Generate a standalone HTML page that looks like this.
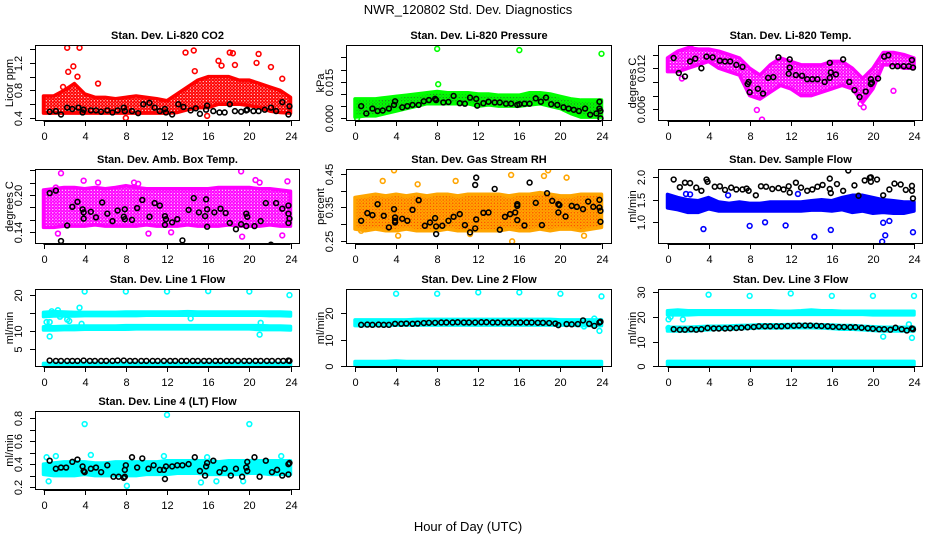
<!DOCTYPE html>
<html><head><meta charset="utf-8"><style>
html,body{margin:0;padding:0;background:#fff}
svg{display:block;font-family:"Liberation Sans",Arial,sans-serif}
</style></head><body>
<svg id="chart" width="936" height="540" viewBox="0 0 936 540" xmlns="http://www.w3.org/2000/svg">
<defs id="defs"></defs>
<text x="468" y="14" font-size="13" text-anchor="middle">NWR_120802  Std. Dev. Diagnostics</text>
<text x="468" y="531" font-size="13" text-anchor="middle">Hour of Day (UTC)</text>
</svg>
<script>
// ---- data (hour 0..24 bands, outliers, black points) ----
const xTicks = [0,4,8,12,16,20,24];
const hours = [0,1,2,3,4,5,6,7,8,9,10,11,12,13,14,15,16,17,18,19,20,21,22,23,24];

const co2Lo = [0.47,0.47,0.47,0.47,0.47,0.47,0.47,0.47,0.47,0.47,0.47,0.47,0.47,0.48,0.52,0.55,0.55,0.6,0.6,0.6,0.58,0.55,0.5,0.48,0.47];
const co2Hi = [0.72,0.72,0.8,0.9,0.75,0.7,0.7,0.68,0.7,0.72,0.7,0.68,0.65,0.75,0.85,0.95,1.0,1.0,1.0,0.95,0.95,0.9,0.85,0.8,0.7];
const co2Out = [[2.3,1.42],[3.5,1.42],[2.9,1.15],[2.4,1.07],[3.3,1.0],[1.9,0.85],[5.3,0.9],[8.0,0.4],[13.8,1.35],[14.6,1.38],[17,1.23],[18.1,1.35],[18.4,1.34],[20.9,1.33],[20.7,1.2],[17.3,1.16],[18.6,1.17],[23.2,0.97],[22.1,1.14],[15.9,0.43],[14.7,1.08]];
const co2Blk = [[0.6,.49],[1.2,.5],[1.7,.45],[2.3,.55],[2.8,.53],[3.4,.55],[3.8,.48],[3.9,.52],[4.6,.51],[5.1,.51],[5.6,.49],[6.2,.51],[6.7,.48],[7.2,.51],[7.8,.55],[7.9,.5],[8.6,.5],[9.2,.47],[9.7,.6],[10.3,.62],[10.8,.55],[11.3,.5],[11.8,.53],[11.9,.48],[12.5,.45],[13.1,.6],[13.6,.56],[14.3,.51],[14.8,.54],[15.2,.46],[15.8,.52],[15.9,.58],[16.5,.5],[17.1,.48],[17.6,.48],[18.1,.6],[18.6,.5],[19.2,.49],[19.7,.51],[19.8,.52],[20.4,.5],[20.9,.5],[21.5,.52],[22.1,.55],[22.6,.5],[23.2,.63],[23.8,.45],[23.9,.57]];

const presLo = [0.0005,0.001,0.001,0.002,0.003,0.004,0.005,0.006,0.006,0.006,0.006,0.006,0.005,0.0055,0.005,0.005,0.005,0.0055,0.006,0.005,0.004,0.002,0.0005,0.0005,0.0005];
const presHi = [0.008,0.008,0.008,0.0085,0.009,0.0095,0.01,0.0105,0.011,0.0105,0.0105,0.0105,0.01,0.01,0.0095,0.0095,0.0095,0.0105,0.0105,0.01,0.009,0.008,0.0075,0.0075,0.0075];
const presOut = [[8,0.0285],[16,0.028],[24,0.0265],[8.1,0.014],[0.2,0.0]];
const presBlk = [[0.6,.005],[1.1,.002],[1.7,.004],[2.2,.003],[2.7,.0032],[3.3,.004],[3.9,.007],[3.8,.0055],[4.6,.0045],[5.1,.005],[5.6,.0055],[6.2,.0055],[6.7,.007],[7.2,.0075],[7.8,.008],[7.9,.0075],[8.6,.0065],[9.1,.0067],[9.6,.0092],[10.2,.0062],[10.7,.006],[11.2,.0085],[11.8,.008],[11.9,.0052],[12.5,.0062],[13.0,.0068],[13.6,.0065],[14.1,.0065],[14.7,.006],[15.2,.006],[15.8,.0055],[16.0,.0058],[16.5,.006],[17.0,.006],[17.6,.0082],[18.1,.0068],[18.6,.0085],[19.1,.0058],[19.7,.0055],[20.3,.0045],[20.8,.004],[21.3,.0035],[21.8,.003],[22.4,.004],[22.9,.0015],[23.5,.002],[23.8,.0068],[23.8,.004],[23.9,.003],[23.9,0.0]];

const tempLo = [0.0115,0.0115,0.012,0.0125,0.013,0.012,0.0115,0.011,0.008,0.0075,0.0085,0.0095,0.009,0.008,0.008,0.0085,0.009,0.0095,0.009,0.007,0.009,0.0125,0.0125,0.012,0.012];
const tempHi = [0.0135,0.0145,0.015,0.0148,0.0148,0.0145,0.014,0.0135,0.012,0.011,0.0125,0.0135,0.013,0.0125,0.0125,0.0125,0.013,0.013,0.012,0.0105,0.012,0.0143,0.0143,0.014,0.0135];
const tempOut = [[9.2,0.0045],[8.7,0.0059],[19.1,0.0063],[22,0.0087],[1.4,0.0105],[18.8,0.0068],[2.3,0.0155]];
const tempBlk = [[0.6,.0135],[1.1,.0113],[1.7,.0108],[2.2,.013],[2.7,.0134],[3.3,.012],[3.8,.0137],[4.4,.0136],[5.1,.0131],[5.6,.013],[6.1,.013],[6.7,.0125],[7.3,.0122],[7.9,.01],[7.8,.0097],[8.0,.0085],[8.8,.009],[9.3,.0083],[9.8,.0106],[10.3,.0107],[10.8,.0136],[11.8,.0112],[11.9,.0133],[11.9,.0121],[12.5,.011],[13.1,.0109],[13.6,.0104],[14.1,.0104],[14.6,.0104],[15.3,.01],[15.8,.0106],[15.8,.0128],[15.9,.0114],[16.4,.0111],[17.1,.0133],[17.7,.01],[18.2,.0088],[18.7,.0078],[19.3,.0086],[19.8,.0104],[19.8,.0097],[19.9,.0099],[20.5,.0105],[21.1,.0137],[21.5,.0139],[21.9,.0123],[22.4,.0123],[23,.0123],[23.5,.0123],[23.8,.0132],[23.9,.0121]];

const ambLo = [0.148,0.148,0.15,0.15,0.15,0.152,0.15,0.15,0.15,0.15,0.152,0.15,0.15,0.15,0.152,0.15,0.15,0.15,0.152,0.15,0.15,0.15,0.152,0.15,0.15];
const ambHi = [0.208,0.21,0.212,0.212,0.21,0.212,0.21,0.212,0.215,0.212,0.21,0.21,0.21,0.21,0.21,0.21,0.21,0.212,0.212,0.212,0.212,0.21,0.21,0.208,0.206];
const ambOut = [[1.7,.235],[9.2,.218],[8.8,.22],[19.2,.238],[23.7,.222],[3.9,.223],[1.2,.212],[1.4,.138],[19.3,.133],[23.2,.135],[5.3,.22],[12.4,.14],[10.2,.138],[21.0,.22],[20.6,.224]];
const ambBlk = [[0.6,.203],[1.2,.207],[1.7,.126],[2.3,.151],[2.8,.181],[3.3,.189],[3.9,.172],[3.8,.177],[3.9,.162],[4.6,.173],[5.1,.164],[5.7,.188],[6.2,.17],[6.7,.158],[7.2,.175],[7.8,.165],[7.9,.161],[7.9,.177],[8.6,.16],[9.1,.179],[9.6,.192],[10.3,.165],[10.8,.187],[11.3,.183],[11.8,.166],[11.8,.152],[11.9,.161],[12.5,.156],[13.0,.161],[13.5,.127],[14.1,.176],[14.6,.195],[15.1,.172],[15.7,.166],[15.8,.193],[15.9,.177],[15.9,.149],[16.6,.172],[17.2,.178],[17.7,.171],[18.1,.155],[18.7,.145],[19.2,.153],[19.7,.17],[19.7,.15],[19.8,.165],[20.5,.15],[21.1,.158],[21.6,.187],[22.1,.12],[22.6,.187],[23.2,.178],[23.8,.183],[23.8,.17],[23.8,.155],[23.9,.162]];

const rhLo = [0.285,0.28,0.285,0.28,0.28,0.285,0.28,0.28,0.28,0.285,0.28,0.28,0.28,0.28,0.28,0.285,0.28,0.28,0.285,0.28,0.285,0.285,0.28,0.285,0.29];
const rhHi = [0.38,0.385,0.39,0.385,0.39,0.385,0.39,0.385,0.39,0.39,0.385,0.39,0.39,0.39,0.39,0.385,0.39,0.39,0.395,0.39,0.385,0.385,0.39,0.39,0.39];
const rhOut = [[3.8,0.462],[15.2,0.448],[18.8,0.462],[15.3,0.248],[11.2,0.27],[0.6,0.28],[2.7,0.43],[6.1,0.42],[9.8,0.43],[18.4,0.445],[20.6,0.44],[22.3,0.265],[4.2,0.265]];
const rhBlk = [[0.6,.31],[1.2,.333],[1.7,.327],[2.2,.36],[2.8,.325],[3.3,.29],[3.8,.345],[3.9,.32],[3.9,.31],[3.9,.305],[4.6,.316],[5.1,.31],[5.6,.343],[6.2,.372],[6.8,.295],[7.3,.305],[7.8,.318],[7.9,.293],[7.9,.27],[8.5,.295],[9.1,.31],[9.6,.322],[10.2,.33],[10.7,.297],[11.2,.275],[11.7,.287],[11.7,.418],[11.8,.44],[11.8,.314],[12.5,.334],[13.0,.335],[13.6,.406],[14.1,.283],[14.6,.322],[15.1,.33],[15.6,.335],[15.8,.36],[15.8,.355],[15.8,.312],[16.5,.296],[17.0,.425],[17.6,.364],[18.2,.297],[18.7,.393],[19.2,.37],[19.8,.36],[19.8,.335],[19.9,.357],[20.5,.323],[21.1,.355],[21.6,.352],[22.2,.345],[22.7,.368],[23.2,.352],[23.8,.373],[23.8,.35],[23.9,.34],[23.9,.307]];

const flowLo = [1.32,1.28,1.22,1.22,1.3,1.25,1.25,1.25,1.25,1.25,1.25,1.25,1.25,1.25,1.27,1.27,1.25,1.28,1.22,1.25,1.2,1.22,1.2,1.2,1.25];
const flowHi = [1.62,1.55,1.5,1.48,1.55,1.45,1.42,1.45,1.42,1.42,1.45,1.45,1.45,1.45,1.48,1.5,1.48,1.55,1.6,1.6,1.55,1.5,1.48,1.45,1.45];
const flowOut = [[3.5,.85],[8,.92],[11.5,.93],[9.5,1.0],[14.3,.68],[15.9,.83],[20.9,.57],[21.2,.71],[21,.99],[21.6,1.03],[23.9,.78],[1.8,1.63],[2.2,1.62],[5.9,1.6],[12.7,1.63]];
const flowBlk = [[0.6,1.95],[1.2,1.78],[1.7,1.88],[2.2,1.87],[2.8,1.77],[3.3,1.7],[3.8,1.95],[3.9,1.9],[4.6,1.79],[5.1,1.8],[5.6,1.72],[6.2,1.77],[6.7,1.73],[7.3,1.73],[7.7,1.75],[7.9,1.7],[8.6,1.6],[9.1,1.8],[9.6,1.79],[10.2,1.74],[10.8,1.76],[11.3,1.73],[11.8,1.8],[11.9,1.66],[12.5,1.88],[13.0,1.77],[13.6,1.7],[14.1,1.73],[14.6,1.79],[15.1,1.83],[15.8,1.97],[15.8,1.74],[15.9,1.65],[16.5,1.85],[17.1,1.7],[17.6,2.15],[18.2,1.82],[18.6,1.59],[19.2,1.93],[19.7,1.99],[19.8,1.9],[19.8,2.0],[20.4,1.95],[21.0,1.6],[21.6,1.73],[22.1,1.86],[22.7,1.84],[23.2,1.72],[23.8,1.81],[23.8,1.7],[23.9,1.53]];

const l1UpLo = [14.0,14.2,14.2,14.2,14.3,14.3,14.3,14.3,14.3,14.3,14.4,14.4,14.4,14.4,14.4,14.4,14.4,14.4,14.4,14.4,14.4,14.4,14.3,14.3,14.2];
const l1UpHi = [15.2,15.4,15.3,15.2,15.2,15.2,15.2,15.2,15.3,15.3,15.3,15.3,15.3,15.3,15.4,15.3,15.3,15.3,15.3,15.3,15.3,15.3,15.3,15.3,15.2];
const l1MidLo = [10.3,10.3,10.4,10.4,10.5,10.5,10.5,10.5,10.5,10.6,10.6,10.6,10.6,10.6,10.6,10.6,10.6,10.6,10.6,10.6,10.6,10.4,10.4,10.4,10.3];
const l1MidHi = [11.2,11.2,11.3,11.4,11.4,11.4,11.4,11.4,11.5,11.5,11.5,11.5,11.5,11.5,11.5,11.5,11.5,11.5,11.5,11.5,11.5,11.5,11.4,11.4,11.3];
const l1BotLo = [0.4,0.4,0.4,0.4,0.4,0.4,0.4,0.4,0.4,0.4,0.4,0.4,0.4,0.4,0.4,0.4,0.4,0.4,0.4,0.4,0.4,0.4,0.4,0.4,0.4];
const l1BotHi = [1.0,1.0,1.0,1.0,1.0,1.0,1.0,1.0,1.0,1.0,1.0,1.0,1.0,1.0,1.0,1.0,1.0,1.0,1.0,1.0,1.0,1.0,1.0,1.0,1.0];
const l1Out = [[4,21],[8,21],[12,21],[16,21.1],[20,21],[23.9,20],[3.5,16.5],[0.6,8.5],[0.3,12.5],[0.6,12.5],[21,9],[21.1,12.3],[14.3,13.5],[1.6,14],[2.3,13.2],[2.5,12.8],[0.8,15.5],[1.4,15.8],[3.7,12]];
const l1Blk = [[0.6,1.8],[1.2,1.7],[1.7,1.7],[2.3,1.7],[2.8,1.7],[3.3,1.7],[3.9,1.8],[4.5,1.7],[5.0,1.7],[5.6,1.7],[6.1,1.7],[6.7,1.7],[7.2,1.8],[7.8,1.8],[8.4,1.7],[8.9,1.7],[9.5,1.7],[10.0,1.7],[10.6,1.7],[11.1,1.7],[11.7,1.7],[12.3,1.7],[12.8,1.7],[13.4,1.7],[13.9,1.7],[14.5,1.7],[15.0,1.7],[15.6,1.7],[16.1,1.7],[16.7,1.7],[17.2,1.7],[17.8,1.7],[18.3,1.7],[18.9,1.7],[19.5,1.7],[20.0,1.7],[20.6,1.7],[21.1,1.7],[21.7,1.7],[22.2,1.7],[22.8,1.7],[23.3,1.7],[23.8,1.8],[23.9,1.7]];

const l2UpLo = [15.3,15.3,15.3,15.3,15.5,15.5,15.5,15.5,15.5,15.5,15.5,15.5,15.5,15.5,15.5,15.5,15.5,15.5,15.5,15.5,15.5,15.5,15.3,15.3,15.3];
const l2UpHi = [17.5,17.5,17.5,17.5,17.5,17.5,17.7,17.7,17.7,17.7,17.7,17.7,17.7,17.7,17.7,17.7,17.7,17.7,17.7,17.7,17.5,17.5,17.5,17.5,17.5];
const l2BotLo = [0.3,0.3,0.3,0.3,0.3,0.3,0.3,0.3,0.3,0.3,0.3,0.3,0.3,0.3,0.3,0.3,0.3,0.3,0.3,0.3,0.3,0.3,0.3,0.3,0.3];
const l2BotHi = [1.6,1.6,1.6,1.6,1.8,1.6,1.6,1.6,1.6,1.6,1.6,1.6,1.6,1.6,1.6,1.6,1.6,1.6,1.6,1.6,1.6,1.6,1.6,1.6,1.6];
const l2Out = [[4,27.5],[8,27.5],[12,28],[16,28],[20,27.5],[24,26.5],[23.8,13.3],[22.3,15],[23.3,18]];
const l2Blk = [[0.6,15.6],[1.2,15.7],[1.7,15.6],[2.3,15.7],[2.8,15.6],[3.3,15.6],[3.9,16.0],[4.5,16.0],[5.0,16.1],[5.6,16.0],[6.1,16.1],[6.7,16.3],[7.2,16.4],[7.8,16.4],[8.4,16.5],[8.9,16.5],[9.5,16.5],[10.0,16.6],[10.6,16.5],[11.1,16.5],[11.7,16.5],[12.3,16.6],[12.8,16.6],[13.4,16.5],[13.9,16.5],[14.5,16.5],[15.0,16.5],[15.6,16.5],[16.1,16.5],[16.7,16.5],[17.2,16.5],[17.8,16.4],[18.3,16.4],[18.9,16.3],[19.5,16.1],[19.8,15.5],[20.6,15.9],[21.1,15.8],[21.7,15.9],[22.2,17.3],[22.8,16.0],[23.3,15.2],[23.8,16.5],[23.9,16.8]];

const l3UpLo = [20.8,20.8,20.8,21.0,21.0,21.0,21.0,21.0,21.0,21.0,21.0,21.0,21.0,21.0,21.0,21.0,21.0,21.0,21.0,21.0,20.8,20.8,20.8,20.8,20.8];
const l3UpHi = [22.5,22.8,22.5,22.5,22.5,22.5,22.5,22.5,22.5,22.5,22.5,22.3,22.3,22.5,22.8,22.5,22.5,22.3,22.3,22.3,22.3,22.3,22.3,22.3,22.3];
const l3MidLo = [14.3,14.3,14.3,14.5,14.8,15.0,15.0,15.2,15.4,15.5,15.5,15.5,15.6,15.6,15.6,15.5,15.3,15.0,15.0,14.8,14.5,14.3,14.3,14.3,14.3];
const l3MidHi = [15.8,15.8,15.8,16.0,16.2,16.2,16.3,16.5,16.6,16.8,16.8,16.8,16.9,16.9,16.9,16.8,16.7,16.5,16.5,16.2,16.0,15.8,15.8,15.8,15.8];
const l3BotLo = [0.5,0.5,0.5,0.5,0.5,0.5,0.5,0.5,0.5,0.5,0.5,0.5,0.5,0.5,0.5,0.5,0.5,0.5,0.5,0.5,0.5,0.5,0.5,0.5,0.5];
const l3BotHi = [2.0,2.0,2.0,2.0,2.0,2.0,2.0,2.0,2.0,2.0,2.0,2.0,2.0,2.0,2.0,2.0,2.0,2.0,2.0,2.0,2.0,2.0,2.0,2.0,2.0];
const l3Out = [[4,29],[8,28.5],[12,29.5],[16,28.5],[20,28.5],[24,28.5],[0.1,19],[0.3,20],[21,12],[23.8,11.5],[23.5,17],[1.5,19],[0.1,15.5]];
const l3Blk = [[0.6,15.0],[1.2,14.8],[1.7,14.8],[2.3,15.0],[2.8,14.8],[3.3,15.0],[3.9,15.5],[4.5,15.3],[5.0,15.3],[5.6,15.3],[6.1,15.4],[6.7,15.5],[7.2,15.6],[7.8,15.8],[8.4,15.9],[8.9,16.2],[9.5,16.2],[10.0,16.2],[10.6,16.2],[11.1,16.2],[11.7,16.3],[12.3,16.4],[12.8,16.5],[13.4,16.5],[13.9,16.5],[14.5,16.4],[15.0,16.3],[15.6,16.2],[16.1,16.0],[16.7,15.9],[17.2,15.9],[17.8,15.8],[18.3,15.8],[18.9,15.6],[19.5,15.4],[20.0,15.2],[20.6,15.0],[21.1,15.0],[21.7,14.8],[22.2,15.6],[22.8,15.0],[23.3,14.5],[23.8,15.3],[23.9,15.0]];

const l4Lo = [0.31,0.3,0.3,0.3,0.31,0.3,0.3,0.3,0.3,0.3,0.31,0.31,0.31,0.32,0.32,0.32,0.31,0.31,0.31,0.31,0.32,0.32,0.31,0.31,0.31];
const l4Hi = [0.4,0.41,0.42,0.42,0.42,0.41,0.41,0.42,0.42,0.42,0.42,0.42,0.43,0.43,0.43,0.43,0.43,0.42,0.43,0.43,0.43,0.43,0.43,0.43,0.43];
const l4Out = [[4,0.75],[12,0.83],[20,0.75],[4.6,0.48],[0.5,0.25],[8.1,0.21],[15.3,0.24],[1.2,0.47],[11.7,0.47],[15.9,0.46],[19.4,0.25],[23.1,0.47],[0.3,0.46],[16.8,0.25]];
const l4Blk = [[0.6,.43],[1.2,.36],[1.7,.37],[2.2,.37],[2.8,.42],[3.3,.44],[3.8,.38],[3.9,.34],[4.0,.33],[4.6,.36],[5.1,.37],[5.6,.33],[6.2,.39],[6.8,.29],[7.3,.29],[7.8,.28],[7.9,.29],[7.9,.35],[8.0,.39],[8.6,.46],[9.1,.37],[9.6,.45],[10.2,.36],[10.7,.39],[11.3,.35],[11.7,.35],[11.8,.27],[11.9,.38],[12.5,.38],[13.0,.39],[13.5,.39],[14.1,.4],[14.7,.46],[15.2,.34],[15.7,.3],[15.8,.38],[15.9,.41],[16.5,.43],[17.1,.33],[17.6,.36],[18.2,.3],[18.7,.36],[19.3,.29],[19.7,.37],[19.8,.34],[19.8,.42],[20.5,.46],[21.0,.29],[21.6,.43],[22.2,.33],[22.7,.35],[23.2,.3],[23.8,.31],[23.8,.4],[23.9,.41]];

// ---- layout ----
const colL=[35,346,658], colR=[300,612,923], colX0=[43.5,355,667.5], colX24=[290.5,601.5,914];
const rowT=[45,169,289,411], rowB=[121,244,367,490];
const NS='http://www.w3.org/2000/svg';
const svg=document.getElementById('chart');
const defs=document.getElementById('defs');
function mk(tag,attrs,parent){const e=document.createElementNS(NS,tag);for(const k in attrs)e.setAttribute(k,attrs[k]);(parent||svg).appendChild(e);return e;}
function addPattern(id,stroke,inner){
  const p=mk('pattern',{id:id,width:3.2,height:3.2,patternUnits:'userSpaceOnUse'},defs);
  mk('rect',{width:3.2,height:3.2,fill:inner||'#fff'},p);
  mk('circle',{cx:1.6,cy:1.6,r:1.3,fill:'none',stroke:stroke,'stroke-width':1.3},p);
}
addPattern('pat-red','#ff0000');
addPattern('pat-green','#00ff00','#2a6a2a');
addPattern('pat-mag','#ff00ff');
addPattern('pat-orange','#ffa500','#ff3300');

const panels=[
 {name:'li820-co2',title:'Stan. Dev. Li-820 CO2',ylab:'Licor ppm',ymin:0.356,ymax:1.46,ticks:[0.4,0.6,0.8,1.0,1.2,1.4],labels:['0.4','','0.8','','1.2',''],color:'#ff0000',
  bands:[[co2Lo,co2Hi,'url(#pat-red)']],out:co2Out,blk:co2Blk},
 {name:'li820-pressure',title:'Stan. Dev. Li-820 Pressure',ylab:'kPa',ymin:-0.0011,ymax:0.0301,ticks:[0,0.005,0.01,0.015,0.02,0.025],labels:['0.000','','','0.015','',''],color:'#00ff00',
  bands:[[presLo,presHi,'url(#pat-green)']],out:presOut,blk:presBlk},
 {name:'li820-temp',title:'Stan. Dev. Li-820 Temp.',ylab:'degrees C',ymin:0.00429,ymax:0.0154,ticks:[0.006,0.008,0.010,0.012,0.014],labels:['0.006','','','0.012',''],color:'#ff00ff',
  bands:[[tempLo,tempHi,'url(#pat-mag)']],out:tempOut,blk:tempBlk},
 {name:'amb-box-temp',title:'Stan. Dev. Amb. Box Temp.',ylab:'degrees C',ymin:0.1212,ymax:0.2418,ticks:[0.14,0.16,0.18,0.20,0.22,0.24],labels:['0.14','','','0.20','',''],color:'#ff00ff',
  bands:[[ambLo,ambHi,'url(#pat-mag)']],out:ambOut,blk:ambBlk},
 {name:'gas-stream-rh',title:'Stan. Dev. Gas Stream RH',ylab:'percent',ymin:0.24,ymax:0.466,ticks:[0.25,0.30,0.35,0.40,0.45],labels:['0.25','','0.35','','0.45'],color:'#ffa500',
  bands:[[rhLo,rhHi,'url(#pat-orange)']],out:rhOut,blk:rhBlk},
 {name:'sample-flow',title:'Stan. Dev. Sample Flow',ylab:'ml/min',ymin:0.518,ymax:2.184,ticks:[1.0,1.5,2.0],labels:['1.0','1.5','2.0'],color:'#0000ff',
  bands:[[flowLo,flowHi,'#0000ff']],out:flowOut,blk:flowBlk},
 {name:'line1-flow',title:'Stan. Dev. Line 1 Flow',ylab:'ml/min',ymin:0,ymax:21.7,ticks:[5,10,15,20],labels:['5','10','','20'],color:'#00ffff',
  bands:[[l1UpLo,l1UpHi,'#00ffff'],[l1MidLo,l1MidHi,'#00ffff'],[l1BotLo,l1BotHi,'#00ffff']],out:l1Out,blk:l1Blk},
 {name:'line2-flow',title:'Stan. Dev. Line 2 Flow',ylab:'ml/min',ymin:-0.5,ymax:29.3,ticks:[0,10,20],labels:['0','10','20'],color:'#00ffff',
  bands:[[l2UpLo,l2UpHi,'#00ffff'],[l2BotLo,l2BotHi,'#00ffff']],out:l2Out,blk:l2Blk},
 {name:'line3-flow',title:'Stan. Dev. Line 3 Flow',ylab:'ml/min',ymin:-0.3,ymax:31.3,ticks:[0,10,20,30],labels:['0','10','20','30'],color:'#00ffff',
  bands:[[l3UpLo,l3UpHi,'#00ffff'],[l3MidLo,l3MidHi,'#00ffff'],[l3BotLo,l3BotHi,'#00ffff']],out:l3Out,blk:l3Blk},
 {name:'line4-flow',title:'Stan. Dev. Line 4 (LT) Flow',ylab:'ml/min',ymin:0.174,ymax:0.864,ticks:[0.2,0.3,0.4,0.5,0.6,0.7,0.8],labels:['0.2','','0.4','','0.6','','0.8'],color:'#00ffff',
  bands:[[l4Lo,l4Hi,'#00ffff']],out:l4Out,blk:l4Blk}
];

panels.forEach((p,i)=>{
  const c=i%3,r=Math.floor(i/3);
  const L=colL[c],R=colR[c],T=rowT[r],B=rowB[r];
  const xS=h=>colX0[c]+(colX24[c]-colX0[c])*h/24;
  const yS=v=>B-(v-p.ymin)/(p.ymax-p.ymin)*(B-T);
  const g=mk('g',{});
  
  
  const clip=mk('clipPath',{id:'clip'+i},defs);
  mk('rect',{x:L+1,y:T+1,width:R-L-2,height:B-T-2},clip);
  const plot=mk('g',{'clip-path':'url(#clip'+i+')'},g);
  p.bands.forEach((b,bi)=>{
    const lo=b[0],hi=b[1];
    let pts=hours.map((h,k)=>xS(h)+','+yS(hi[k]));
    pts=pts.concat(hours.slice().reverse().map((h,k)=>xS(h)+','+yS(lo[hours.length-1-k])));
    const poly=mk('polygon',{points:pts.join(' '),fill:b[2],stroke:p.color,'stroke-width':3.5,'stroke-linejoin':'round'},plot);
    
    
  });
  p.out.forEach(d=>{
    const e=mk('circle',{cx:xS(d[0]),cy:yS(d[1]),r:2.4,fill:'none',stroke:p.color,'stroke-width':1.6},plot);
    
    
  });
  p.blk.forEach(d=>{
    const e=mk('circle',{cx:xS(d[0]),cy:yS(d[1]),r:2.4,fill:'none',stroke:'#000','stroke-width':1.6},plot);
    
    
  });
  const fr=mk('rect',{x:L+0.5,y:T+0.5,width:R-L-1,height:B-T-1,fill:'none',stroke:'#000','stroke-width':1},g);
  
  
  const t=mk('text',{x:(L+R)/2,y:T-6,'font-size':11,'font-weight':'bold','text-anchor':'middle'},g);
  t.textContent=p.title;
  
  
  mk('line',{x1:xS(0),x2:xS(24),y1:B+0.5,y2:B+0.5,stroke:'#000'},g);
  xTicks.forEach(h=>{
    const x=Math.round(xS(h))+0.5;
    mk('line',{x1:x,x2:x,y1:B,y2:B+5,stroke:'#000'},g);
    const tl=mk('text',{x:x,y:B+19,'font-size':11,'text-anchor':'middle'},g);
    tl.textContent=h;
    
    
  });
  mk('line',{x1:L+0.5,x2:L+0.5,y1:yS(p.ticks[0]),y2:yS(p.ticks[p.ticks.length-1]),stroke:'#000'},g);
  p.ticks.forEach((v,k)=>{
    const y=Math.round(yS(v))+0.5;
    mk('line',{x1:L-5,x2:L,y1:y,y2:y,stroke:'#000'},g);
    if(p.labels[k]){
      const tl=mk('text',{x:L-13,y:y,'font-size':11,'text-anchor':'middle',transform:'rotate(-90 '+(L-13)+' '+y+')'},g);
      tl.textContent=p.labels[k];
      
      
    }
  });
  const yt=mk('text',{x:L-22,y:(T+B)/2,'font-size':11,'text-anchor':'middle',transform:'rotate(-90 '+(L-22)+' '+((T+B)/2)+')'},g);
  yt.textContent=p.ylab;
  
  
});
</script>
</body></html>
